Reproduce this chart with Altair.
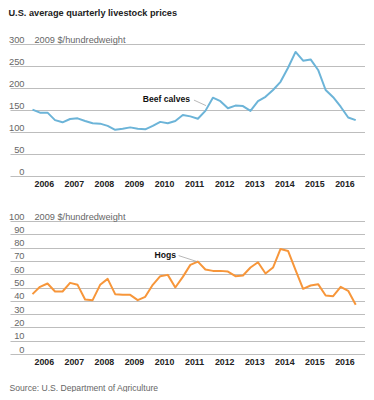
import altair as alt
import pandas as pd

FONT = "Liberation Sans"

# Quarterly timeline 2006 Q1 .. 2016 Q4
years = list(range(2006, 2017))
quarters = [1, 2, 3, 4]

# Beef calves, 2009 $/hundredweight
beef = [151, 144, 144, 127, 122, 129.5, 131, 125, 120, 119, 114, 105,
        107.5, 110.5, 107.5, 106, 114, 123, 120, 125, 138.5, 135.5, 130, 148,
        178, 170, 154, 160, 159, 148, 170, 180, 195.5, 214, 246, 282,
        262, 265, 241, 195.5, 179, 157.5, 133, 127]

# Hogs, 2009 $/hundredweight
hogs = [45, 50.5, 53, 47, 47, 53.5, 52, 41, 40.5, 52, 56.5, 45,
        44.5, 44.5, 40.5, 43, 52, 58.5, 59.5, 50, 58, 67, 69.5, 63.5,
        62.5, 62.5, 62, 58.5, 59, 65, 69, 60.5, 65, 79, 77.5, 63,
        49, 51.5, 52.5, 44, 43.5, 50.5, 47.5, 37]

beef_ticks = [0, 50, 100, 150, 200, 250, 300]
hog_ticks = [0, 10, 20, 30, 40, 50, 60, 70, 80, 90, 100]

title_text = "U.S. average quarterly livestock prices"
unit_text = "2009 $/hundredweight"
source_text = "Source: U.S. Department of Agriculture"

# annotation labels (data units)
beef_label = {"t": [2011.24], "v": [176], "label": ["Beef calves"],
              "t0": [2011.37], "v0": [172.5], "t1": [2011.77], "v1": [160]}
hog_label = {"t": [2010.77], "v": [74.8], "label": ["Hogs"],
             "t0": [2010.86], "v0": [74.0], "t1": [2011.47], "v1": [69.5]}

t = [y + (q - 1) / 4 for y in years for q in quarters]
df = pd.DataFrame({"t": t, "beef": beef, "hogs": hogs})

xscale = alt.Scale(domain=[2005.252, 2017.059], nice=False, zero=False)


def xaxis(title=None):
    kw = dict(values=[y + 0.375 for y in years], labelExpr="floor(datum.value)",
              grid=False, domain=False, ticks=False, tickSize=0, labelPadding=3,
              labelFlush=False, labelOverlap=False, labelFont=FONT,
              labelFontSize=8.8, labelFontWeight="bold", labelColor="#222")
    if title:
        kw.update(title=title, titleX=-1, titleY=36, titleAlign="left",
                  titleAnchor="start", titleBaseline="alphabetic", titleFont=FONT,
                  titleFontSize=8.6, titleFontWeight="normal", titleColor="#666")
    else:
        kw.update(title=None)
    return alt.Axis(**kw)


def yaxis(ticks):
    return alt.Axis(values=ticks, grid=True, gridColor="#bdbdbd", gridWidth=1,
                    domain=False, ticks=False, tickSize=0, labelPadding=-14,
                    labelAlign="right", labelBaseline="bottom", labelFlush=False,
                    labelOverlap=False, labelFont=FONT, labelFontSize=9.3,
                    labelColor="#666", title=unit_text, titleAngle=0, titleX=24,
                    titleY=0, titleAlign="left", titleBaseline="bottom",
                    titleFont=FONT, titleFontSize=9.2, titleFontWeight="normal",
                    titleColor="#666")


def panel(field, color, ticks, ymax, ann, height, source=None):
    yscale = alt.Scale(domain=[0, ymax], nice=False, zero=True)
    xa = xaxis(source)
    ya = yaxis(ticks)
    base = alt.Chart(df)
    line = base.mark_line(color=color, strokeWidth=2, strokeJoin="round").encode(
        x=alt.X("t:Q", scale=xscale, axis=xa),
        y=alt.Y(f"{field}:Q", scale=yscale, axis=ya),
    )
    adf = pd.DataFrame(ann)
    leader = alt.Chart(adf).mark_rule(color="#999", strokeWidth=0.7).encode(
        x=alt.X("t0:Q", scale=xscale, axis=xa), x2="t1:Q",
        y=alt.Y("v0:Q", scale=yscale, axis=ya), y2="v1:Q",
    )
    label = alt.Chart(adf).mark_text(align="right", baseline="middle", font=FONT,
                                     fontSize=8.6, fontWeight="bold",
                                     color="#111").encode(
        x=alt.X("t:Q", scale=xscale, axis=xa),
        y=alt.Y("v:Q", scale=yscale, axis=ya), text="label:N"
    )
    return alt.layer(line, leader, label).properties(width=355, height=height)


top = panel("beef", "#6cb4d8", beef_ticks, 300, beef_label, 132)
bottom = panel("hogs", "#f7963a", hog_ticks, 100, hog_label, 133, source=source_text)

chart = alt.vconcat(top, bottom, spacing=45, bounds="flush").properties(
    title=alt.TitleParams(title_text, anchor="start", font=FONT, fontSize=9.2,
                          fontWeight="bold", color="#222", offset=17),
    padding={"left": 0, "top": 0, "right": 0, "bottom": 0},
    background="white",
).configure_view(stroke=None)

chart.save("out.html", embed_options={"renderer": "svg", "actions": False})
